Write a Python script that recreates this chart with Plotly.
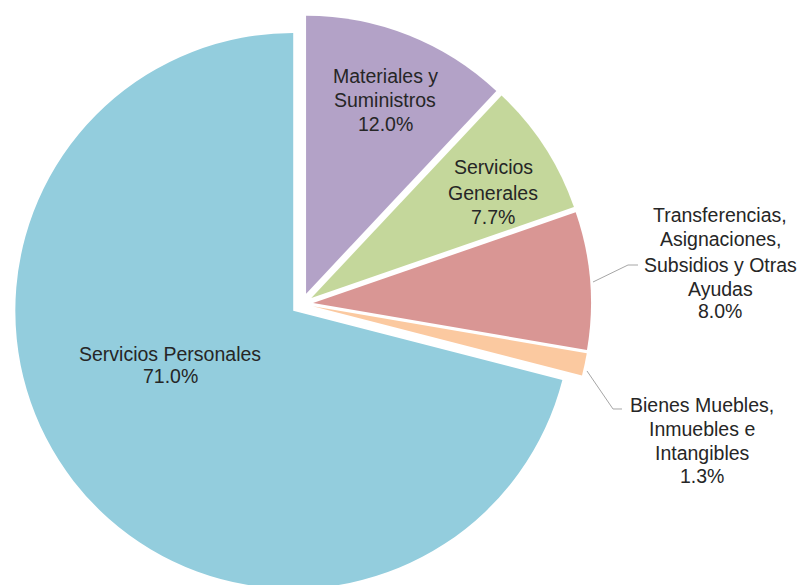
import plotly.graph_objects as go

# ---- data ----
categories = [
    "Materiales y Suministros",
    "Servicios Generales",
    "Transferencias, Asignaciones, Subsidios y Otras Ayudas",
    "Bienes Muebles, Inmuebles e Intangibles",
    "Servicios Personales",
]
label_lines = [
    ["Materiales y", "Suministros"],
    ["Servicios", "Generales"],
    ["Transferencias,", "Asignaciones,", "Subsidios y Otras", "Ayudas"],
    ["Bienes Muebles,", "Inmuebles e", "Intangibles"],
    ["Servicios Personales"],
]
values = [12.0, 7.7, 8.0, 1.3, 71.0]
colors = ["#B3A2C7", "#C4D79B", "#D99694", "#FBC9A0", "#93CDDD"]

# ---- layout helpers (positions given in page pixels; page body has 8px offset) ----
W, H = 801, 585
OFF = 8
PULL = 0.04

def px(x):
    return (x - OFF) / W

def py(y):
    return 1 - (y - OFF) / H

fig = go.Figure()
fig.add_trace(go.Pie(
    labels=categories,
    values=values,
    sort=False,
    direction="clockwise",
    rotation=0,
    pull=[PULL] * len(values),
    marker=dict(colors=colors, line=dict(width=0)),
    textinfo="none",
    showlegend=False,
    domain=dict(x=[px(13), px(591)], y=[py(593), py(15)]),
))

# label line positions (x centre, y centres of each line)
label_x = [385, 493, 720, 702, 170]
label_ys = [
    [75.5, 100, 124.5],
    [167.5, 193, 217],
    [214.5, 239.5, 264.5, 288.5, 311],
    [405, 429, 452.5, 475.5],
    [354, 375.5],
]
annotations = []
for lines, v, x, ys in zip(label_lines, values, label_x, label_ys):
    for t, y in zip(lines + [f"{v:.1f}%"], ys):
        annotations.append(dict(
            x=px(x), y=py(y), xref="paper", yref="paper",
            text=t, showarrow=False, xanchor="center", yanchor="middle",
            font=dict(family="Liberation Sans, Arial", size=19.5, color="#262626"),
        ))

leaders = [
    [(593, 282), (628, 265), (638, 265)],
    [(587, 371), (613, 409), (622, 409)],
]
shapes = []
for pts in leaders:
    path = "M " + " L ".join(f"{px(a):.5f},{py(b):.5f}" for a, b in pts)
    shapes.append(dict(type="path", path=path, xref="paper", yref="paper",
                       line=dict(color="#A6A6A6", width=1)))

fig.update_layout(
    width=W, height=H,
    margin=dict(l=0, r=0, t=0, b=0),
    paper_bgcolor="white", plot_bgcolor="white",
    annotations=annotations, shapes=shapes,
)

fig.write_html("out.html")
